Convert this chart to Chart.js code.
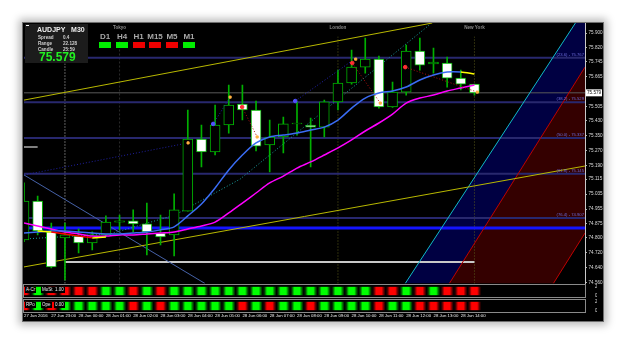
<!DOCTYPE html>
<html>
<head>
<meta charset="utf-8">
<script src="https://cdn.jsdelivr.net/npm/chart.js@4.4.0/dist/chart.umd.min.js"></script>
<style>
html, body { margin: 0; padding: 0; width: 625px; height: 344px; background: #fff; overflow: hidden; }
body { position: relative; font-family: "Liberation Sans", Arial, sans-serif; }
#win { position: absolute; left: 22px; top: 22px; width: 580px; height: 298px; background: #000;
       border: 1px solid #6e6e6e; box-shadow: 0 0 8px 3px rgba(0,0,0,0.28); }
canvas { position: absolute; left: 0; }
.box { position: absolute; border: 1px solid #8a8a8a; }
#info { position: absolute; left: 25px; top: 24px; width: 63px; height: 39px; background: #1c1c1c; color: #d0d0d0; }
#info .sym { position: absolute; left: 12px; top: 2px; font: bold 7px "Liberation Sans", Arial, sans-serif; color: #f0f0f0; white-space: pre; }
#info .row { position: absolute; left: 13px; font: bold 4.6px "Liberation Sans", Arial, sans-serif; color: #cfcfcf; white-space: pre; }
#info .row b { position: absolute; left: 25px; }
#info .px { position: absolute; left: 14px; top: 26px; font: bold 12px "Liberation Sans", Arial, sans-serif; color: #22f022; }
#info .dash { position: absolute; left: 1px; top: 1px; width: 3px; height: 1px; background: #fff; }
.tf { position: absolute; top: 32px; font: bold 8px "Liberation Sans", Arial, sans-serif; color: #a8a8a8; transform: translateX(-50%); }
.tfbox { position: absolute; top: 42px; width: 12px; height: 6px; }
.slab { position: absolute; font: 4.5px "Liberation Sans", Arial, sans-serif; color: #eee; background: #000; padding: 0 1px; line-height: 6px; }
</style>
</head>
<body>
<div id="win"></div>
<div class="box" style="left:23px;top:284px;width:561px;height:12px"></div>
<div class="box" style="left:23px;top:299px;width:561px;height:12px"></div>
<canvas id="main" width="625" height="344" style="top:0"></canvas>
<canvas id="strip1" width="625" height="18" style="top:282px"></canvas>
<canvas id="strip2" width="625" height="18" style="top:297px"></canvas>

<div id="info">
  <div class="dash"></div>
  <div class="sym">AUDJPY   M30</div>
  <div class="row" style="top:11px">Spread<b>0.4</b></div>
  <div class="row" style="top:17px">Range<b>22.128</b></div>
  <div class="row" style="top:23px">Candle<b>25:59</b></div>
  <div class="px">75.579</div>
</div>
<div id="tfs"></div>
<span class="slab" style="left:25px;top:287px">A-Cr</span>
<span class="slab" style="left:41px;top:287px">MoSt</span>
<span class="slab" style="left:54px;top:287px">1.00</span>
<span class="slab" style="left:25px;top:302px">RPo</span>
<span class="slab" style="left:41px;top:302px">Ope</span>
<span class="slab" style="left:54px;top:302px">0.00</span>

<script>
// --- Data ---
const candleOpen  = [74.789, 74.998, 74.832, 74.800, 74.810, 74.773, 74.816, 74.885, 74.891, 74.875, 74.826, 74.816, 74.944, 75.331, 75.261, 75.406, 75.519, 75.487, 75.299, 75.342, 75.412, 75.406, 75.395, 75.530, 75.632, 75.717, 75.760, 75.503, 75.583, 75.803, 75.734, 75.739, 75.658, 75.626];
const candleHigh  = [75.095, 75.025, 74.880, 74.880, 74.848, 74.832, 74.918, 74.923, 74.950, 74.987, 74.923, 75.036, 75.487, 75.406, 75.513, 75.621, 75.621, 75.535, 75.433, 75.449, 75.530, 75.444, 75.540, 75.701, 75.809, 75.873, 75.777, 75.637, 75.836, 75.873, 75.819, 75.771, 75.701, 75.626];
const candleLow   = [74.780, 74.816, 74.639, 74.574, 74.719, 74.735, 74.805, 74.843, 74.832, 74.708, 74.762, 74.703, 74.944, 75.181, 75.245, 75.363, 75.433, 75.267, 75.154, 75.256, 75.352, 75.181, 75.342, 75.487, 75.626, 75.685, 75.497, 75.500, 75.567, 75.701, 75.685, 75.610, 75.594, 75.567];
const candleClose = [74.998, 74.837, 74.644, 74.816, 74.773, 74.816, 74.885, 74.891, 74.875, 74.832, 74.805, 74.950, 75.331, 75.261, 75.406, 75.513, 75.487, 75.293, 75.342, 75.412, 75.417, 75.395, 75.530, 75.632, 75.717, 75.760, 75.503, 75.583, 75.803, 75.728, 75.744, 75.658, 75.626, 75.579];

const maBlue    = [74.826, 74.832, 74.837, 74.837, 74.832, 74.826, 74.821, 74.821, 74.826, 74.832, 74.843, 74.859, 74.918, 74.982, 75.068, 75.165, 75.245, 75.310, 75.342, 75.352, 75.363, 75.379, 75.395, 75.433, 75.497, 75.551, 75.578, 75.589, 75.610, 75.648, 75.675, 75.691, 75.691, 75.680];
const maMagenta = [74.880, 74.864, 74.848, 74.832, 74.821, 74.810, 74.810, 74.816, 74.816, 74.821, 74.826, 74.832, 74.848, 74.864, 74.885, 74.934, 74.987, 75.041, 75.095, 75.132, 75.175, 75.208, 75.245, 75.283, 75.326, 75.374, 75.417, 75.465, 75.524, 75.551, 75.567, 75.589, 75.605, 75.621];
const maFast    = [null, 74.837, 74.832, 74.821, 74.810, 74.800, 74.805];

const yTicks = [75.900, 75.820, 75.745, 75.665, 75.505, 75.430, 75.350, 75.270, 75.190, 75.115, 75.035, 74.955, 74.875, 74.800, 74.720, 74.640, 74.560];
const timeTickIdx = [0, 2, 4, 6, 8, 10, 12, 14, 16, 18, 20, 22, 24, 26, 28, 30, 32];
const timeLabels = ['27 Jun 2016', '27 Jun 23:00', '28 Jun 00:00', '28 Jun 01:00', '28 Jun 02:00', '28 Jun 03:00', '28 Jun 04:00', '28 Jun 05:00', '28 Jun 06:00', '28 Jun 07:00', '28 Jun 08:00', '28 Jun 09:00', '28 Jun 10:00', '28 Jun 11:00', '28 Jun 12:00', '28 Jun 13:00', '28 Jun 14:00'];

const fibNames  = ['23.6', '38.2', '50.0', '61.8', '76.4'];
const fibLevels = [75.767, 75.529, 75.337, 75.145, 74.907];
const blueLevel = 74.853;
const silverLevel = 74.671, silverFrom = 3, silverTo = 33;
const whiteDashLevel = 75.288;

const sessionNames = ['Tokyo', 'London', 'New York'];
const sessionIdx = [7, 23, 33];
const separatorIdx = 3;

// diagonal objects: [x index, price]
const yellowUpper = [[0, 75.540], [29.91, 75.954]];
const yellowLower = [[0, 74.644], [41.1, 75.186]];
const steelLine   = [[0, 75.138], [13.26, 74.555]];
const navyRay     = [[0, 75.138], [12.02, 75.310]];
const tealDotted  = [[0, 74.794], [6.3, 74.821], [11.07, 74.923], [15.84, 75.116], [29.77, 75.948]];
const cyanEdge    = [[27.93, 74.555], [40.40, 75.954]];
const redEdge1    = [[31.16, 74.555], [41.1, 75.717]];
const redEdge2    = [[38.78, 74.555], [41.1, 74.826]];
const navyBand    = [[27.93, 74.555], [40.40, 75.954], [41.1, 75.954], [41.1, 75.717], [31.16, 74.555]];
const redBand     = [[31.16, 74.555], [41.1, 75.717], [41.1, 74.826], [38.78, 74.555]];

const zigNavy = [[[13.86, 75.412], [15.10, 75.556]], [[19.87, 75.535], [23.90, 75.744]]];
const zigRed  = [[[15.98, 75.503], [17.08, 75.342]], [[24.05, 75.739], [26.10, 75.524]], [[27.93, 75.717], [33.21, 75.583]]];
const blueDots  = [[13.86, 75.412], [19.87, 75.535]];
const redDots   = [[15.98, 75.503], [24.05, 75.739], [27.93, 75.717]];
const amberMarks = [[12.02, 75.310], [15.10, 75.556], [17.08, 75.342], [24.3, 75.760], [26.10, 75.524], [33.21, 75.583]];

const strip1 = [-1, 1, -1, -1, -1, -1, 1, 1, -1, 1, -1, 1, 1, 1, 1, 1, 1, 1, 1, 1, 1, 1, 1, 1, 1, 1, -1, -1, 1, -1, 1, -1, -1, -1];
const strip2 = [-1, 1, -1, 1, 1, 1, 1, 1, -1, 1, -1, 1, 1, 1, 1, 1, -1, 1, -1, 1, 1, -1, 1, 1, 1, 1, -1, 1, 1, -1, -1, -1, -1, -1];

const tfNames  = ['D1', 'H4', 'H1', 'M15', 'M5', 'M1'];
const tfStates = [1, 1, -1, -1, -1, 1];

// --- Scale bounds ---
const X_MAX = 41.1;
const Y_MIN = 74.555, Y_MAX = 75.954;
const SMALL = '"Liberation Sans", Arial, sans-serif';

// --- Helpers ---
const toPts = arr => arr.map(([x, y]) => ({ x, y }));
const seriesPts = arr => arr.map((y, i) => ({ x: i, y }));

function lineDs(points, color, extra) {
    return Object.assign({
        type: 'line', data: points, borderColor: color, borderWidth: 1,
        pointRadius: 0, fill: false, clip: 0, order: 30
    }, extra || {});
}
function hLine(level, color, width, from, to) {
    return lineDs([{ x: from, y: level }, { x: to, y: level }], color, { borderWidth: width, order: 35 });
}
function vLine(idx, top, color, dash) {
    return lineDs([{ x: idx, y: Y_MIN }, { x: idx, y: top }], color, { borderDash: dash, order: 36 });
}
function marks(arr, color, style, r) {
    return lineDs(toPts(arr), color, {
        showLine: false, pointRadius: r, pointStyle: style,
        pointBackgroundColor: color, pointBorderColor: color, order: 2
    });
}

// --- Main chart datasets ---
const datasets = [];

datasets.push(lineDs(toPts(navyBand), 'transparent', { fill: 'shape', backgroundColor: '#000042', borderWidth: 0, order: 100 }));
datasets.push(lineDs(toPts(redBand), 'transparent', { fill: 'shape', backgroundColor: '#340000', borderWidth: 0, order: 100 }));

fibLevels.forEach(lv => datasets.push(hLine(lv, '#28286e', 2, 0, X_MAX)));
datasets.push(hLine(candleClose[candleClose.length - 1], '#5a5a5a', 1, 0, X_MAX));
datasets.push(hLine(blueLevel, '#1414ff', 3, 0, X_MAX));
datasets.push(hLine(silverLevel, '#c8c8c8', 2, silverFrom, silverTo));
datasets.push(hLine(whiteDashLevel, '#ffffff', 1, 0, 1));

datasets.push(vLine(separatorIdx, 75.735, '#bdbdbd', [1, 2]));
datasets.push(vLine(sessionIdx[0], 75.880, '#2a2a2a', [2, 2]));
sessionIdx.slice(1).forEach(s => datasets.push(vLine(s, 75.880, '#5a5a1a', [1, 2])));

datasets.push(lineDs(toPts(yellowUpper), '#b8b800'));
datasets.push(lineDs(toPts(yellowLower), '#b8b800'));
datasets.push(lineDs(toPts(steelLine), '#4662a8'));
datasets.push(lineDs(toPts(navyRay), '#2020a0', { borderDash: [1, 2] }));
datasets.push(lineDs(toPts(tealDotted), '#1aa0a0', { borderDash: [1, 2] }));
datasets.push(lineDs(toPts(cyanEdge), '#10b8c8'));
datasets.push(lineDs(toPts(redEdge1), '#c00000'));
datasets.push(lineDs(toPts(redEdge2), '#c00000'));

// candles: wicks and bodies as floating bars
datasets.push({
    type: 'bar', order: 21, grouped: false, clip: 0,
    data: candleHigh.map((h, i) => ({ x: i, y: [candleLow[i], h] })),
    backgroundColor: '#00b000', barThickness: 1
});
datasets.push({
    type: 'bar', order: 20, grouped: false, clip: 0,
    data: candleOpen.map((o, i) => ({ x: i, y: [o, candleClose[i]] })),
    backgroundColor: candleOpen.map((o, i) => candleClose[i] >= o ? '#000000' : '#ffffff'),
    borderColor: '#00b000', borderWidth: 1, borderSkipped: false, barThickness: 10
});

// moving averages
datasets.push(lineDs(seriesPts(maMagenta), '#ff00ff', { borderWidth: 1.5, tension: 0.3, order: 8 }));
datasets.push(lineDs(seriesPts(maBlue), '#3a6cf4', {
    borderWidth: 1.5, tension: 0.3, order: 7,
    segment: { borderColor: c => c.p1DataIndex === maBlue.length - 1 ? '#ffff00' : undefined }
}));
datasets.push(lineDs(seriesPts(maFast), '#ff0000', {
    borderWidth: 1.5, order: 6,
    segment: { borderColor: c => (c.p0DataIndex < 2 || c.p0DataIndex >= 5) ? '#ffff00' : undefined }
}));

zigNavy.forEach(z => datasets.push(lineDs(toPts(z), '#2424b0', { borderDash: [1, 2], order: 4 })));
zigRed.forEach(z => datasets.push(lineDs(toPts(z), '#b01010', { borderDash: [1, 2], order: 4 })));
datasets.push(marks(blueDots, '#5050ff', 'circle', 1.8));
datasets.push(marks(redDots, '#ff3030', 'circle', 1.8));
datasets.push(marks(amberMarks, '#ffb040', 'rect', 1.5));

// --- Overlay texts drawn from the scales ---
const overlay = {
    id: 'overlay',
    afterDatasetsDraw(chart) {
        const { ctx, chartArea: a, scales: { x, y } } = chart;
        ctx.save();
        ctx.font = '4.2px ' + SMALL;
        ctx.textAlign = 'right';
        ctx.textBaseline = 'bottom';
        ctx.fillStyle = '#6a6ad8';
        fibLevels.forEach((lv, i) => {
            ctx.fillText('(' + fibNames[i] + ') - ' + lv.toFixed(3), a.right - 1, y.getPixelForValue(lv) - 1);
        });

        ctx.font = 'bold 4.6px ' + SMALL;
        ctx.textAlign = 'center';
        ctx.textBaseline = 'middle';
        ctx.fillStyle = '#8a8a8a';
        sessionIdx.forEach((s, i) => ctx.fillText(sessionNames[i], x.getPixelForValue(s), a.top + 5));

        const last = candleClose[candleClose.length - 1];
        const py = y.getPixelForValue(last);
        ctx.fillStyle = '#ffffff';
        ctx.fillRect(a.right + 1, py - 3.5, 16, 7);
        ctx.fillStyle = '#000000';
        ctx.font = '4.6px ' + SMALL;
        ctx.textAlign = 'left';
        ctx.fillText(last.toFixed(3), a.right + 2, py);
        ctx.restore();
    }
};

new Chart(document.getElementById('main'), {
    type: 'bar',
    data: { datasets },
    options: {
        responsive: false,
        animation: false,
        layout: { padding: { left: 24, top: 23, right: 22, bottom: 0 } },
        plugins: { legend: { display: false }, tooltip: { enabled: false } },
        scales: {
            x: {
                type: 'linear', min: 0, max: X_MAX, offset: false,
                // time axis sits below the two indicator strips (tick length used as the gap)
                afterFit: s => { s.height = 60.5; },
                afterBuildTicks: s => { s.ticks = timeTickIdx.map(v => ({ value: v })); },
                ticks: {
                    color: '#f0f0f0', padding: 0, autoSkip: false, maxRotation: 0, align: 'start',
                    font: { family: SMALL, size: 4.3 },
                    callback: v => timeLabels[timeTickIdx.indexOf(v)]
                },
                grid: { display: false, drawTicks: true, tickLength: 29.5 },
                border: { display: false }
            },
            y: {
                type: 'linear', position: 'right', min: Y_MIN, max: Y_MAX,
                afterFit: s => { s.width = 18; },
                afterBuildTicks: s => { s.ticks = yTicks.map(v => ({ value: v })); },
                ticks: { color: '#dcdcdc', padding: 1.5, autoSkip: false, font: { family: SMALL, size: 4.6 }, callback: v => v.toFixed(3) },
                grid: { drawOnChartArea: false, tickLength: 2, color: '#b0b0b0' },
                border: { color: '#c8c8c8' }
            }
        }
    },
    plugins: [overlay]
});

// --- Indicator strips ---
function cellColor(states) {
    return c => {
        const chart = c.chart;
        if (!chart.chartArea || c.dataIndex === undefined) return '#000';
        const xs = chart.scales.x;
        const px = xs.getPixelForValue(c.dataIndex);
        const half = (xs.getPixelForValue(1) - xs.getPixelForValue(0)) / 2;
        const up = states[c.dataIndex] > 0;
        const g = chart.ctx.createLinearGradient(px - half, 0, px + half, 0);
        g.addColorStop(0, '#000');
        g.addColorStop(0.12, up ? '#003a00' : '#3a0000');
        g.addColorStop(0.3, up ? '#00ff00' : '#ff0000');
        g.addColorStop(0.7, up ? '#00ff00' : '#ff0000');
        g.addColorStop(0.88, up ? '#005000' : '#500000');
        g.addColorStop(1, '#000');
        return g;
    };
}

function stripChart(id, states) {
    return new Chart(document.getElementById(id), {
        type: 'bar',
        data: {
            datasets: [{
                data: states.map((s, i) => ({ x: i, y: 2 })),
                backgroundColor: cellColor(states),
                barPercentage: 1, categoryPercentage: 1, clip: 0
            }]
        },
        options: {
            responsive: false,
            animation: false,
            layout: { padding: { left: 24, top: 3, right: 28, bottom: 3 } },
            plugins: { legend: { display: false }, tooltip: { enabled: false } },
            scales: {
                x: { type: 'linear', min: 0, max: X_MAX, offset: false, display: false },
                y: {
                    position: 'right', min: 0, max: 2,
                    afterFit: s => { s.width = 12; },
                    afterBuildTicks: s => { s.ticks = [{ value: 2 }, { value: 0 }]; },
                    ticks: { color: '#dcdcdc', padding: 2, font: { family: SMALL, size: 4.5 } },
                    grid: { display: false },
                    border: { display: false }
                }
            }
        }
    });
}
stripChart('strip1', strip1);
stripChart('strip2', strip2);

// --- Timeframe panel ---
const tfHolder = document.getElementById('tfs');
const tfCenters = [105, 122, 138.5, 155, 172, 189];
tfNames.forEach((n, i) => {
    const t = document.createElement('div');
    t.className = 'tf';
    t.style.left = tfCenters[i] + 'px';
    t.textContent = n;
    tfHolder.appendChild(t);
    const b = document.createElement('div');
    b.className = 'tfbox';
    b.style.left = (tfCenters[i] - 6) + 'px';
    b.style.background = tfStates[i] > 0 ? '#00ee00' : '#ee0000';
    tfHolder.appendChild(b);
});
</script>
</body>
</html>
